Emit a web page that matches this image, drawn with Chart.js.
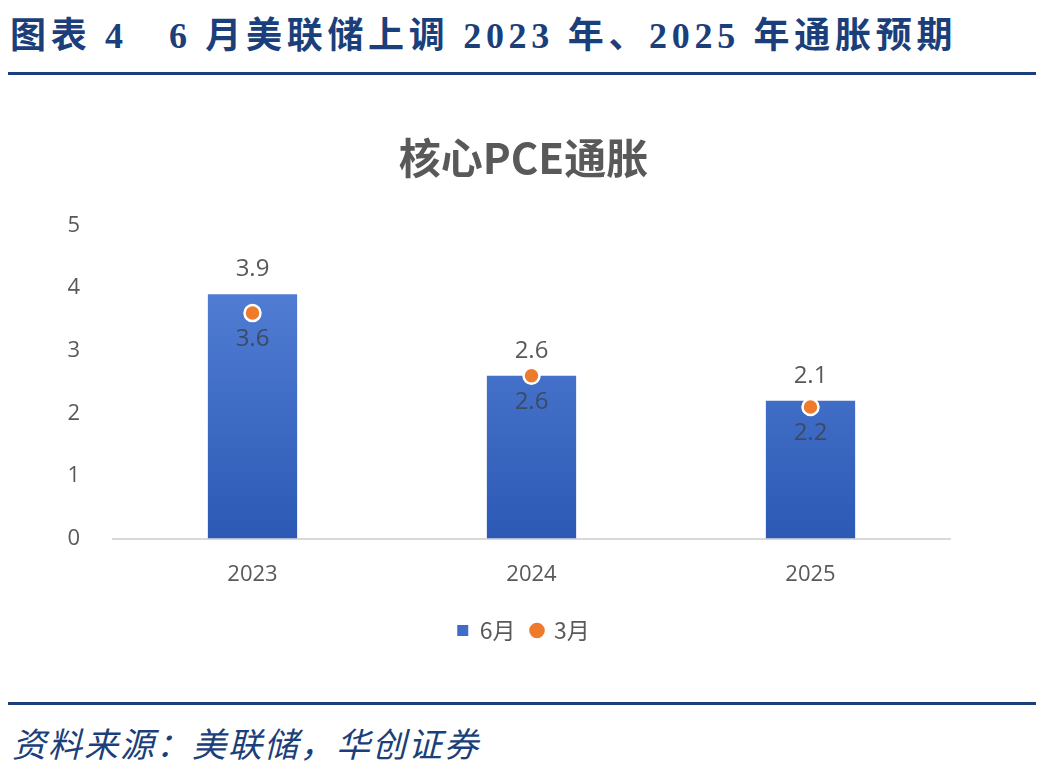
<!DOCTYPE html>
<html>
<head>
<meta charset="utf-8">
<script src="https://cdn.jsdelivr.net/npm/chart.js@4.4.0/dist/chart.umd.min.js"></script>
<style>
  html, body { margin: 0; padding: 0; background: #fff; }
  body { width: 1047px; height: 775px; position: relative; overflow: hidden; }
  #head {
    position: absolute; left: 10px; top: 6px; white-space: pre; letter-spacing: 4.7px;
    font: bold 36px "Liberation Serif", "Noto Sans CJK SC", serif; color: #1b3f7a;
  }
  .rule { position: absolute; left: 8px; width: 1028px; height: 3px; background: #1b3f7a; }
  #src {
    position: absolute; left: 12px; top: 718px; white-space: pre; letter-spacing: 2px;
    font: italic 34px "Noto Sans CJK SC", sans-serif; color: #1b3f7a;
  }
  #wrap { position: absolute; left: 0; top: 100px; width: 1047px; height: 552px; }
</style>
</head>
<body>
<div id="head">图表 4   6 月美联储上调 2023 年、2025 年通胀预期</div>
<div class="rule" style="top:72px"></div>
<div id="wrap"><canvas id="chartPce"></canvas></div>
<div class="rule" style="top:702px"></div>
<div id="src">资料来源：美联储，华创证券</div>

<script>
// --- DATOS ---
const categorias = ['2023', '2024', '2025'];
const junio = [3.9, 2.6, 2.2];   // barras (6月)
const marzo = [3.6, 2.6, 2.1];   // puntos (3月)
// etiquetas tal como aparecen en la imagen (arriba de la barra / debajo del punto)
const etiquetasArriba = ['3.9', '2.6', '2.1'];
const etiquetasAbajo = ['3.6', '2.6', '2.2'];
const ticksY = [0, 1, 2, 3, 4, 5];

const GRIS = '#595959';
const FUENTE = '"Open Sans", sans-serif';

// Etiquetas de datos dibujadas a partir de los elementos del gráfico
const etiquetasPlugin = {
    id: 'etiquetas',
    afterDatasetsDraw(chart) {
        const ctx = chart.ctx;
        const barras = chart.getDatasetMeta(0).data;
        const puntos = chart.getDatasetMeta(1).data;
        ctx.save();
        ctx.font = '24px ' + FUENTE;
        ctx.textAlign = 'center';
        ctx.textBaseline = 'middle';
        barras.forEach((b, i) => {
            ctx.fillStyle = GRIS;
            ctx.fillText(etiquetasArriba[i], b.x, b.y - 25);
        });
        puntos.forEach((p, i) => {
            ctx.fillStyle = '#3d4a66';
            ctx.fillText(etiquetasAbajo[i], p.x, p.y + 26);
        });
        ctx.restore();
    }
};

function degradado(context) {
    const { chart } = context;
    const area = chart.chartArea;
    if (!area) return '#3f6ccb';
    const g = chart.ctx.createLinearGradient(0, area.top, 0, area.bottom);
    g.addColorStop(0, '#5a86dc');
    g.addColorStop(1, '#2c59b4');
    return g;
}

new Chart(document.getElementById('chartPce'), {
    data: {
        labels: categorias,
        datasets: [
            {
                type: 'bar',
                label: '6月',
                data: junio,
                backgroundColor: degradado,
                barPercentage: 0.32,
                categoryPercentage: 1,
                order: 2
            },
            {
                type: 'line',
                label: '3月',
                data: marzo,
                showLine: false,
                pointRadius: 8,
                pointHoverRadius: 8,
                pointBackgroundColor: '#ee7a2c',
                pointBorderColor: '#ffffff',
                pointBorderWidth: 2.5,
                order: 1
            }
        ]
    },
    options: {
        responsive: true,
        maintainAspectRatio: false,
        animation: false,
        layout: { padding: { left: 0, right: 0, top: 10, bottom: 0 } },
        plugins: {
            title: {
                display: true,
                text: '核心PCE通胀',
                color: GRIS,
                font: { family: '"Noto Sans CJK SC", sans-serif', size: 42, weight: 'bold' },
                padding: { top: 23, bottom: 42 }
            },
            legend: {
                position: 'bottom',
                labels: {
                    color: GRIS,
                    font: { family: '"Noto Sans CJK SC", sans-serif', size: 23 },
                    usePointStyle: true,
                    boxWidth: 11,
                    boxHeight: 11,
                    padding: 16,
                    generateLabels(chart) {
                        return chart.data.datasets.map((ds, i) => ({
                            text: ds.label,
                            fillStyle: i === 0 ? '#3f6ccb' : '#ee7a2c',
                            strokeStyle: i === 0 ? '#3f6ccb' : '#ee7a2c',
                            lineWidth: 0,
                            pointStyle: i === 0 ? 'rect' : 'circle',
                            fontColor: GRIS,
                            datasetIndex: i
                        }));
                    }
                }
            },
            tooltip: { enabled: false }
        },
        scales: {
            x: {
                grid: { display: false },
                border: { color: '#d9d9d9', width: 2 },
                ticks: { color: GRIS, font: { family: FUENTE, size: 22 }, padding: 15 }
            },
            y: {
                min: 0,
                max: 5,
                afterBuildTicks(scale) { scale.ticks = ticksY.map(v => ({ value: v })); },
                afterFit(scale) { scale.width = 113; },
                grid: { display: false },
                border: { display: false },
                ticks: { color: GRIS, font: { family: FUENTE, size: 22 }, padding: 25 }
            },
            // eje vacío a la derecha para reservar margen y centrar título/leyenda
            yDer: {
                position: 'right',
                min: 0,
                max: 5,
                afterFit(scale) { scale.width = 97; },
                grid: { display: false },
                border: { display: false },
                ticks: { display: false }
            }
        }
    },
    plugins: [etiquetasPlugin]
});
</script>
</body>
</html>
